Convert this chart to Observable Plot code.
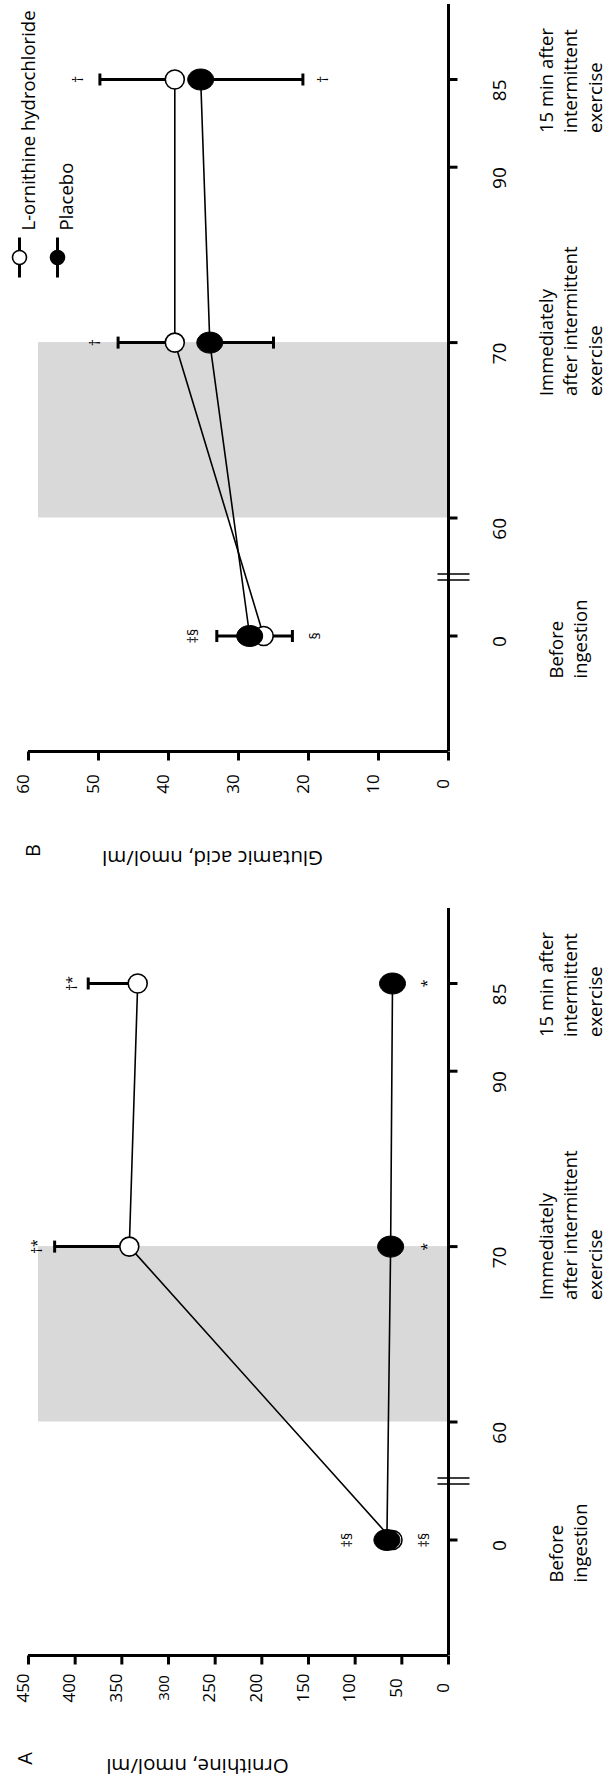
<!DOCTYPE html>
<html>
<head>
<meta charset="utf-8">
<script src="https://cdn.jsdelivr.net/npm/d3@7"></script>
<script src="https://cdn.jsdelivr.net/npm/@observablehq/plot@0.6"></script>
<style>
  html, body { margin: 0; padding: 0; background: #fff; }
  #chart svg { display: block; }
</style>
</head>
<body>
<div id="chart"></div>
<script>
// ---------- shared data ----------
const series = ["L-ornithine hydrochloride", "Placebo"];
const timePoints = [0, 70, 85];
const timeTickValues = [0, 60, 70, 80, 85];
const timeTickLabels = ["0", "60", "70", "90", "85"];
const categoryTimes = [70, 85];
const categoryLabels = ["Immediately\nafter intermittent\nexercise", "15 min after\nintermittent\nexercise"];
const baselineTimes = [0];
const baselineLabels = ["Before\ningestion"];
const exerciseStart = 60;
const exerciseEnd = 70;
const breakTime = 30;

// ---------- panel B: glutamic acid ----------
const gluTicks = [0, 10, 20, 30, 40, 50, 60];
const gluOrnithine = [26.4, 39.1, 39.1];
const gluOrnithineSE = [4.1, 8.1, 10.7];
const gluOrnithineSide = [-1, 1, 1];
const gluPlacebo = [28.4, 34.1, 35.4];
const gluPlaceboSE = [4.7, 9.1, 14.6];
const gluPlaceboSide = [1, -1, -1];
const gluAnnLabels = ["‡§", "§", "†", "†", "†"];
const gluAnnTimes = [0, 0, 70, 85, 85];
const gluAnnValues = [36.4, 19.0, 50.4, 52.9, 17.9];

// ---------- panel A: ornithine ----------
const ornTicks = [0, 50, 100, 150, 200, 250, 300, 350, 400, 450];
const ornOrnithine = [60, 342, 333];
const ornOrnithineSE = [5, 80, 53];
const ornOrnithineSide = [-1, 1, 1];
const ornPlacebo = [66, 62, 60];
const ornPlaceboSE = [5, 5, 5];
const ornPlaceboSide = [1, -1, -1];
const ornAnnLabels = ["‡§", "‡§", "†*", "*", "†*", "*"];
const ornAnnTimes = [0, 0, 70, 70, 85, 85];
const ornAnnValues = [108, 25.7, 440.4, 22.5, 402.9, 22.5];

// ---------- helpers ----------
const yDomain = [-60, 0, 60, 85, 89.3];
const yRange = [751, 635.5, 517.5, 79, 4];
const seg = (x1, y1, x2, y2) => ({draw(ctx) { ctx.moveTo(x1, y1); ctx.lineTo(x2, y2); }});
const breakSymbol = {draw(ctx) { ctx.moveTo(-16, -3); ctx.lineTo(16, -3); ctx.moveTo(-16, 3); ctx.lineTo(16, 3); }};
const ellipse = (rx, ry) => ({draw(ctx) {
  const k = 0.5523;
  ctx.moveTo(rx, 0);
  ctx.bezierCurveTo(rx, ry * k, rx * k, ry, 0, ry);
  ctx.bezierCurveTo(-rx * k, ry, -rx, ry * k, -rx, 0);
  ctx.bezierCurveTo(-rx, -ry * k, -rx * k, -ry, 0, -ry);
  ctx.bezierCurveTo(rx * k, -ry, rx, -ry * k, rx, 0);
  ctx.closePath();
}});

function rowsFor(values, se, side, name) {
  return timePoints.map((t, i) => ({series: name, time: t, value: values[i], end: values[i] + side[i] * se[i]}));
}

function panel(o) {
  const open = rowsFor(o.open, o.openSE, o.openSide, series[0]);
  const filled = rowsFor(o.placebo, o.placeboSE, o.placeboSide, series[1]);
  const all = open.concat(filled);
  const ann = o.annLabels.map((l, i) => ({label: l, time: o.annTimes[i], value: o.annValues[i]}));
  const timeTicks = timeTickValues.map((v, i) => ({v, label: timeTickLabels[i]}));
  const cats = categoryTimes.map((t, i) => ({t, label: categoryLabels[i]}));
  const base = baselineTimes.map((t, i) => ({t, label: baselineLabels[i]}));
  const marks = [
    Plot.rect([0], {y1: exerciseStart, y2: exerciseEnd, insetLeft: 10, fill: "#d9d9d9"}),
    Plot.ruleY([yDomain[0]], {stroke: "black", strokeWidth: 3}),
    Plot.ruleX([0], {stroke: "black", strokeWidth: 3}),
    Plot.dot(o.ticks, {x: d => d, frameAnchor: "bottom", symbol: seg(0, 0, 0, 9), fill: "none", stroke: "black", strokeWidth: 3}),
    Plot.dot(timeTickValues, {y: d => d, frameAnchor: "right", symbol: seg(0, 0, 9, 0), fill: "none", stroke: "black", strokeWidth: 3}),
    Plot.dot([breakTime], {y: d => d, frameAnchor: "right", dx: 5, symbol: breakSymbol, fill: "none", stroke: "black", strokeWidth: 1.6}),
    Plot.line(all, {x: "value", y: "time", z: "series", stroke: "black", strokeWidth: 1.6}),
    Plot.ruleY(all, {y: "time", x1: "value", x2: "end", stroke: "black", strokeWidth: 3}),
    Plot.dot(all, {x: "end", y: "time", symbol: seg(0, -6, 0, 6), fill: "none", stroke: "black", strokeWidth: 3}),
    Plot.dot(open, {x: "value", y: "time", r: 9.5, fill: "white", stroke: "black", strokeWidth: 1.6}),
    Plot.dot(filled, {x: "value", y: "time", symbol: ellipse(13, 10.5), fill: "black", stroke: "black", strokeWidth: 1}),
    Plot.text(ann, {x: "value", y: "time", text: "label", rotate: -90, fontSize: 14, fill: "black"}),
    Plot.text(o.ticks, {x: d => d, text: d => String(d), frameAnchor: "bottom", dy: 32.5, rotate: -90,
      fontSize: d => (o.smallTick === d ? 15 : 17), fill: "black"}),
    Plot.text(timeTicks, {y: "v", text: "label", frameAnchor: "right", dx: 51, rotate: -90, fontSize: 19, fill: "black"}),
    Plot.text(cats, {y: "t", text: "label", frameAnchor: "right", dx: 121, dy: 53.5, rotate: -90,
      textAnchor: "start", lineAnchor: "middle", lineHeight: 1.32, fontSize: 18.5, fill: "black"}),
    Plot.text(base, {y: "t", text: "label", frameAnchor: "right", dx: 118.5, dy: 42.5, rotate: -90,
      textAnchor: "start", lineAnchor: "middle", lineHeight: 1.32, fontSize: 18.5, fill: "black"}),
    Plot.text([o.title], {frameAnchor: "bottom", dx: o.titleDx, dy: o.titleDy, rotate: 180, fontSize: 20.5, fill: "black"}),
    Plot.text([o.letter], {x: () => o.max, frameAnchor: "bottom", dx: o.letterDx, dy: o.titleDy, rotate: -90, fontSize: 20, fill: "black"})
  ];
  if (o.legend) {
    series.forEach((name, i) => {
      const dx = -9 + i * 38;
      marks.push(Plot.dot([name], {frameAnchor: "top-left", dx, dy: 253, symbol: seg(0, -20, 0, 20), fill: "none", stroke: "black", strokeWidth: 3}));
      marks.push(Plot.dot([name], {frameAnchor: "top-left", dx, dy: 253, r: 7, fill: i === 0 ? "white" : "black", stroke: "black", strokeWidth: 1.6}));
      marks.push(Plot.text([name], {frameAnchor: "top-left", dx: dx + 2.5, dy: 226, rotate: -90, textAnchor: "start", fontSize: 18.5, fill: "black"}));
    });
  }
  return Plot.plot({
    width: 605,
    height: o.height,
    marginLeft: 28,
    marginRight: 157,
    marginTop: 4,
    marginBottom: o.height - 751,
    x: {domain: [0, o.max], reverse: true, axis: null},
    y: {type: "linear", domain: yDomain, range: yRange, axis: null},
    style: {fontFamily: "'Open Sans', sans-serif", color: "black", background: "white", overflow: "visible"},
    marks
  });
}

const chart = document.getElementById("chart");
chart.appendChild(panel({
  height: 904, max: 60, ticks: gluTicks,
  open: gluOrnithine, openSE: gluOrnithineSE, openSide: gluOrnithineSide,
  placebo: gluPlacebo, placeboSE: gluPlaceboSE, placeboSide: gluPlaceboSide,
  annLabels: gluAnnLabels, annTimes: gluAnnTimes, annValues: gluAnnValues,
  title: "Glutamic acid, nmol/ml", titleDx: -26, titleDy: 99,
  letter: "B", letterDx: 11, legend: true
}));
chart.appendChild(panel({
  height: 874, max: 450, ticks: ornTicks, smallTick: 300,
  open: ornOrnithine, openSE: ornOrnithineSE, openSide: ornOrnithineSide,
  placebo: ornPlacebo, placeboSE: ornPlaceboSE, placeboSide: ornPlaceboSide,
  annLabels: ornAnnLabels, annTimes: ornAnnTimes, annValues: ornAnnValues,
  title: "Ornithine, nmol/ml", titleDx: -41, titleDy: 103,
  letter: "A", letterDx: 3, legend: false
}));
</script>
</body>
</html>
